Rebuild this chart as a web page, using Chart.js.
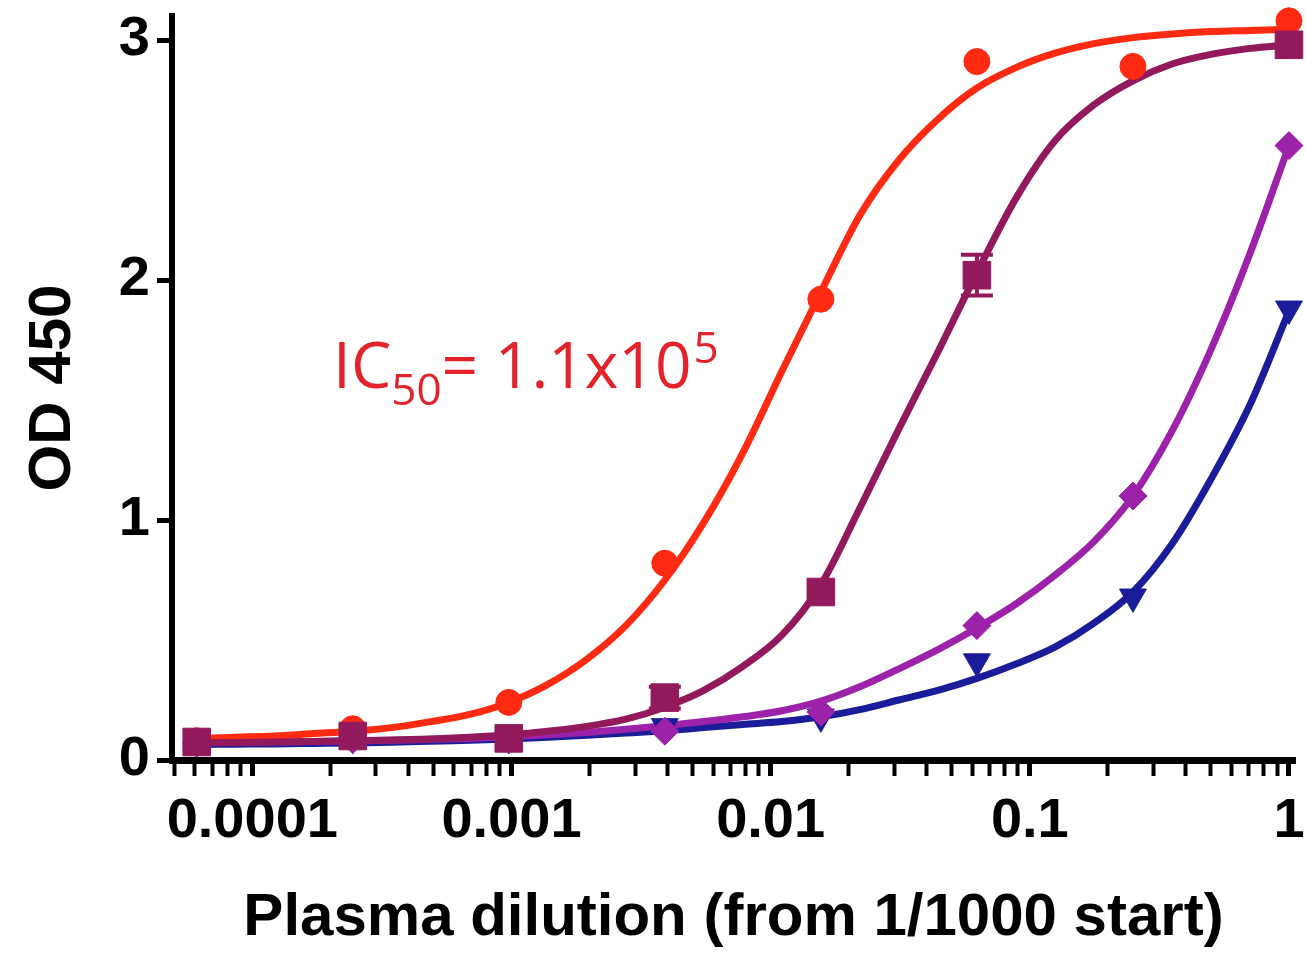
<!DOCTYPE html>
<html>
<head>
<meta charset="utf-8">
<script src="https://cdn.jsdelivr.net/npm/chart.js@4.4.1/dist/chart.umd.min.js"></script>
<style>
  html, body { margin: 0; padding: 0; background: #fff; }
  #wrap { width: 1306px; height: 957px; position: relative; }
</style>
</head>
<body>
<div id="wrap"><canvas id="grafico"></canvas></div>
<script>
// 4-fold plasma dilutions (from 1/1000 start)
const dilution = [1, 0.25, 0.0625, 0.015625, 0.00390625, 0.0009765625, 0.000244140625, 0.00006103515625];

// measured OD 450 per series (null = not visible in the figure)
const redPts     = [3.08, 2.89, 2.91, 1.92, 0.82, 0.24, 0.13, 0.08];
const maroonPts  = [2.98, null, 2.02, 0.70, 0.26, 0.09, 0.10, 0.075];
const maroonErr  = [0, 0, 0.085, 0, 0.045, 0, 0, 0];
const purplePts  = [2.56, 1.10, 0.56, 0.20, 0.12, 0.09, 0.085, 0.07];
const bluePts    = [1.88, 0.68, 0.41, 0.18, 0.14, 0.09, 0.09, 0.09];

// fitted curves at sqrt(2) steps from 1 down to 1/16384
const curveDilution = [1, 0.7071, 0.5, 0.3536, 0.25, 0.1768, 0.125, 0.08839, 0.0625, 0.04419,
  0.03125, 0.0221, 0.015625, 0.01105, 0.0078125, 0.005524, 0.00390625, 0.002762, 0.001953125,
  0.001381, 0.0009765625, 0.0006905, 0.00048828125, 0.0003453, 0.000244140625, 0.0001726,
  0.0001220703125, 0.0000863, 0.00006103515625];
const redFit = [3.045, 3.04, 3.035, 3.025, 3.01, 2.985, 2.945, 2.885, 2.80, 2.67, 2.50, 2.27, 1.95,
  1.62, 1.28, 0.99, 0.75, 0.56, 0.42, 0.315, 0.24, 0.19, 0.16, 0.135, 0.12, 0.11, 0.10, 0.095, 0.09];
const maroonFit = [2.98, 2.965, 2.94, 2.90, 2.83, 2.73, 2.58, 2.34, 2.03, 1.70, 1.38, 1.05, 0.73,
  0.52, 0.39, 0.29, 0.22, 0.17, 0.14, 0.12, 0.105, 0.095, 0.088, 0.083, 0.08, 0.077, 0.075, 0.073, 0.072];
const purpleFit = [2.56, 2.11, 1.71, 1.37, 1.10, 0.91, 0.77, 0.65, 0.55, 0.46, 0.38, 0.305, 0.245,
  0.205, 0.18, 0.16, 0.143, 0.128, 0.115, 0.105, 0.097, 0.09, 0.086, 0.082, 0.079, 0.077, 0.075, 0.074, 0.073];
const blueFit = [1.87, 1.48, 1.17, 0.90, 0.70, 0.57, 0.47, 0.40, 0.34, 0.29, 0.25, 0.21, 0.18,
  0.16, 0.148, 0.135, 0.122, 0.112, 0.103, 0.095, 0.088, 0.082, 0.078, 0.074, 0.071, 0.069, 0.067, 0.066, 0.065];

// axis ticks
const yTicks = [0, 1, 2, 3];
const xMajor = [0.0001, 0.001, 0.01, 0.1, 1];
const xTickLabels = ['0.0001', '0.001', '0.01', '0.1', '1'];
const xMin = 0.000049, xMax = 1.055;

const ic50 = { x: 0.000205, y: 1.55 };

const RED = '#ff2a12', MAROON = '#921a5c', PURPLE = '#9d22aa', BLUE = '#1a1c9a';
const tickFont  = { family: "'Liberation Sans', Arial, sans-serif", size: 56, weight: 'bold' };
const titleFont = { family: "'Liberation Sans', Arial, sans-serif", size: 60, weight: 'bold' };

function pts(ys, xs) { return ys.map((y, i) => ({ x: xs[i], y: y })); }

function marker(label, ys, color, style, r, order, rot) {
  return {
    label: label, data: pts(ys, dilution), showLine: false, order: order, clip: false,
    pointStyle: style, pointRadius: r, pointRotation: rot || 0,
    pointBackgroundColor: color, pointBorderColor: color, pointBorderWidth: 1
  };
}
function curve(label, ys, color, order) {
  return {
    label: label, data: pts(ys, curveDilution), showLine: true, order: order, clip: false,
    borderColor: color, borderWidth: 7, pointRadius: 0, fill: false,
    cubicInterpolationMode: 'monotone'
  };
}

// minor log ticks 2..9 per decade, plus the major ones, kept inside the axis range
const xAllTicks = [];
[0.00001, 0.0001, 0.001, 0.01, 0.1].forEach(d => {
  for (let m = 1; m <= 9; m++) xAllTicks.push({ value: d * m, major: m === 1 });
});
xAllTicks.push({ value: 1, major: true });
const xShownTicks = xAllTicks.filter(t => t.value >= xMin && t.value <= xMax);

// error bars of the maroon series, drawn through the scales
const errorBars = {
  id: 'errorBars',
  afterDatasetsDraw(chart) {
    const ctx = chart.ctx, xs = chart.scales.x, ys = chart.scales.y;
    ctx.save();
    ctx.strokeStyle = MAROON;
    ctx.lineWidth = 4;
    dilution.forEach((d, i) => {
      if (!maroonErr[i] || maroonPts[i] == null) return;
      const px = xs.getPixelForValue(d);
      const top = ys.getPixelForValue(maroonPts[i] + maroonErr[i]);
      const bot = ys.getPixelForValue(maroonPts[i] - maroonErr[i]);
      ctx.beginPath();
      ctx.moveTo(px, top); ctx.lineTo(px, bot);
      ctx.moveTo(px - 16, top); ctx.lineTo(px + 16, top);
      ctx.moveTo(px - 16, bot); ctx.lineTo(px + 16, bot);
      ctx.stroke();
    });
    ctx.restore();
  }
};

const ic50Label = {
  id: 'ic50Label',
  afterDatasetsDraw(chart) {
    const ctx = chart.ctx;
    let x = chart.scales.x.getPixelForValue(ic50.x);
    const y = chart.scales.y.getPixelForValue(ic50.y);
    ctx.save();
    ctx.fillStyle = '#e3232b';
    ctx.textBaseline = 'alphabetic';
    ctx.textAlign = 'left';
    const big = "64px 'Open Sans', sans-serif", small = "44px 'Open Sans', sans-serif";
    ctx.font = big; ctx.fillText('IC', x, y); x += ctx.measureText('IC').width;
    ctx.font = small; ctx.fillText('50', x, y + 17); x += ctx.measureText('50').width;
    ctx.font = big; ctx.fillText('= 1.1x10', x, y); x += ctx.measureText('= 1.1x10').width + 2;
    ctx.font = small; ctx.fillText('5', x, y - 25);
    ctx.restore();
  }
};

new Chart(document.getElementById('grafico'), {
  type: 'scatter',
  data: {
    datasets: [
      marker('Serie 1', maroonPts, MAROON, 'rect', 19.5, 0),
      marker('Serie 2', redPts, RED, 'circle', 13, 1),
      marker('Serie 3', purplePts, PURPLE, 'rectRot', 14, 2),
      marker('Serie 4', bluePts, BLUE, 'triangle', 15.5, 3, 180),
      curve('Ajuste 1', maroonFit, MAROON, 4),
      curve('Ajuste 2', redFit, RED, 5),
      curve('Ajuste 3', purpleFit, PURPLE, 6),
      curve('Ajuste 4', blueFit, BLUE, 7)
    ]
  },
  options: {
    responsive: true,
    maintainAspectRatio: false,
    animation: false,
    layout: { autoPadding: false, padding: { top: 16, right: 11, left: 0, bottom: 0 } },
    plugins: { legend: { display: false }, tooltip: { enabled: false } },
    scales: {
      x: {
        type: 'logarithmic',
        min: xMin, max: xMax,
        afterBuildTicks: s => { s.ticks = xShownTicks.map(t => ({ value: t.value, major: t.major })); },
        afterFit: s => { s.height = 197; s.paddingLeft = 0; s.paddingRight = 0; },
        border: { display: true, color: '#000', width: 7 },
        grid: { drawOnChartArea: false, color: '#000', tickColor: '#000', tickLength: 16,
                tickWidth: c => (c.tick && c.tick.major ? 5 : 4) },
        ticks: {
          autoSkip: false, maxRotation: 0, padding: 12, color: '#000', font: tickFont,
          callback: v => {
            const i = xMajor.findIndex(m => Math.abs(m - v) / m < 1e-6);
            return i >= 0 ? xTickLabels[i] : '';
          }
        },
        title: { display: true, text: 'Plasma dilution (from 1/1000 start)', color: '#000',
                 font: titleFont, padding: { top: 0, bottom: 3 } }
      },
      y: {
        min: 0, max: 3.1,
        afterBuildTicks: s => { s.ticks = yTicks.map(v => ({ value: v })); },
        afterFit: s => { s.width = 172; s.paddingTop = 0; s.paddingBottom = 0; },
        border: { display: true, color: '#000', width: 6 },
        grid: { drawOnChartArea: false, color: '#000', tickColor: '#000', tickLength: 15, tickWidth: 5 },
        ticks: { padding: 7, color: '#000', font: tickFont },
        title: { display: true, text: 'OD 450', color: '#000', font: titleFont,
                 padding: { top: 17, bottom: 0 } }
      }
    }
  },
  plugins: [errorBars, ic50Label]
});
</script>
</body>
</html>
